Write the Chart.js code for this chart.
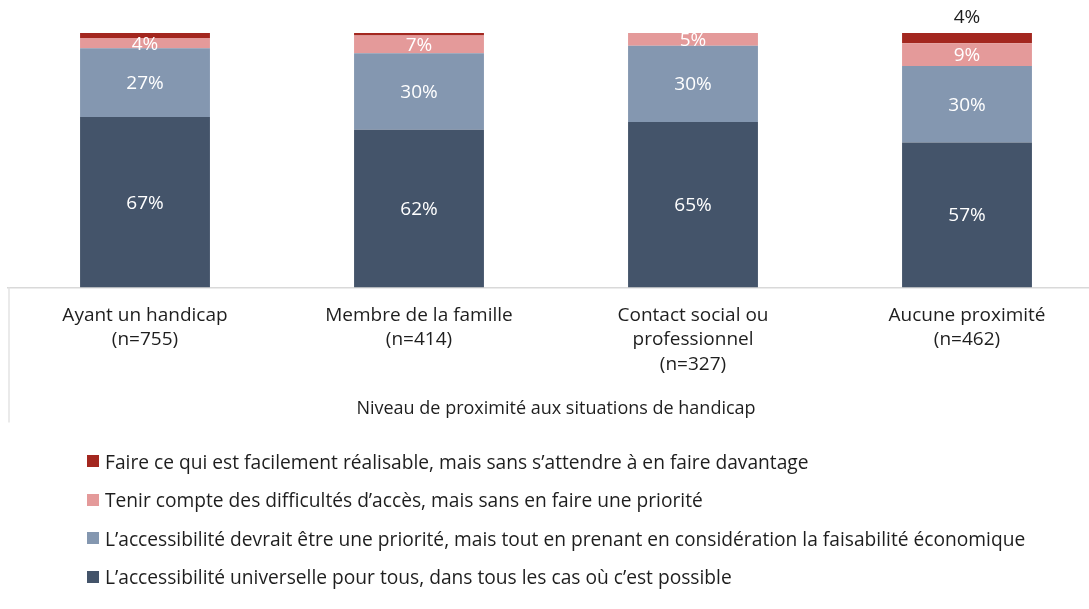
<!DOCTYPE html>
<html>
<head>
<meta charset="utf-8">
<script src="https://cdn.jsdelivr.net/npm/chart.js@4.4.0/dist/chart.umd.min.js"></script>
<style>
    html, body { margin: 0; padding: 0; background: #fff; overflow: hidden; }
    #wrap { position: relative; width: 1110px; height: 609px; }
    #legend { position: absolute; left: 87px; top: 442px; font-family: "Open Sans", sans-serif; font-size: 19.2px; color: #1e1e1e; }
    #legend .row { height: 38.5px; display: flex; align-items: center; }
    #legend .box { width: 12px; height: 12px; margin-right: 6px; display: inline-block; }
</style>
</head>
<body>
<div id="wrap">
    <canvas id="chart"></canvas>
    <div id="legend"></div>
</div>
<script>
const categories = [
    ['Ayant un handicap', '(n=755)'],
    ['Membre de la famille', '(n=414)'],
    ['Contact social ou', 'professionnel', '(n=327)'],
    ['Aucune proximité', '(n=462)']
];
// stacked bottom to top
const universelle = [67, 62, 65, 57];
const prioriteEco = [27, 30, 30, 30];
const tenirCompte = [4, 7, 5, 9];
const faireFacile = [2, 1, 0, 4];

const seriesNames = [
    'L\u2019accessibilité universelle pour tous, dans tous les cas où c\u2019est possible',
    'L\u2019accessibilité devrait être une priorité, mais tout en prenant en considération la faisabilité économique',
    'Tenir compte des difficultés d\u2019accès, mais sans en faire une priorité',
    'Faire ce qui est facilement réalisable, mais sans s\u2019attendre à en faire davantage'
];
const seriesColors = ['#44546a', '#8497b0', '#e49a9a', '#a3271f'];
const axisTitle = 'Niveau de proximité aux situations de handicap';

const FONT = '"Open Sans", sans-serif';

const segmentLabels = {
    id: 'segmentLabels',
    afterDatasetsDraw(chart) {
        const ctx = chart.ctx;
        ctx.save();
        ctx.font = '19px ' + FONT;
        ctx.textAlign = 'center';
        ctx.textBaseline = 'middle';
        chart.data.datasets.forEach((ds, i) => {
            const meta = chart.getDatasetMeta(i);
            meta.data.forEach((bar, j) => {
                const v = ds.data[j];
                if (i === 3) {
                    // thin top segment: label above the bar only when big enough
                    if (v >= 3) {
                        ctx.fillStyle = '#1e1e1e';
                        ctx.fillText(v + '%', bar.x, bar.y - 15);
                    }
                    return;
                }
                if (v <= 0) return;
                ctx.fillStyle = '#fff';
                ctx.fillText(v + '%', bar.x, (bar.y + bar.base) / 2 + 1);
            });
        });
        // left frame line under the axis
        const xs = chart.scales.x;
        ctx.strokeStyle = '#e3e3e3';
        ctx.lineWidth = 1.5;
        ctx.beginPath();
        ctx.moveTo(xs.left + 1, xs.top);
        ctx.lineTo(xs.left + 1, xs.top + 135);
        ctx.stroke();
        ctx.restore();
    }
};

const datasets = [universelle, prioriteEco, tenirCompte, faireFacile].map((d, i) => ({
    label: seriesNames[i],
    data: d,
    backgroundColor: seriesColors[i],
    borderWidth: 0,
    barPercentage: 0.474,
    categoryPercentage: 1
}));

new Chart(document.getElementById('chart').getContext('2d'), {
    type: 'bar',
    data: { labels: categories, datasets: datasets },
    options: {
        responsive: true,
        maintainAspectRatio: false,
        animation: false,
        layout: { padding: { top: 33, left: 8, right: 6, bottom: 189 } },
        plugins: {
            legend: { display: false },
            tooltip: { enabled: false }
        },
        scales: {
            x: {
                stacked: true,
                grid: { display: false, drawTicks: false },
                border: { display: true, color: '#d9d9d9', width: 1.5 },
                ticks: { color: '#1e1e1e', font: { family: FONT, size: 19, lineHeight: 1.28 }, padding: 16, maxRotation: 0, autoSkip: false },
                title: { display: true, text: axisTitle, color: '#1e1e1e', font: { family: FONT, size: 18 }, padding: { top: 6, bottom: 0 } }
            },
            y: {
                stacked: true,
                display: false,
                min: 0,
                max: 100
            }
        }
    },
    plugins: [segmentLabels]
});

// legend: top series first
const legend = document.getElementById('legend');
for (let i = seriesNames.length - 1; i >= 0; i--) {
    const row = document.createElement('div');
    row.className = 'row';
    const box = document.createElement('span');
    box.className = 'box';
    box.style.background = seriesColors[i];
    row.appendChild(box);
    row.appendChild(document.createTextNode(seriesNames[i]));
    legend.appendChild(row);
}
</script>
</body>
</html>
